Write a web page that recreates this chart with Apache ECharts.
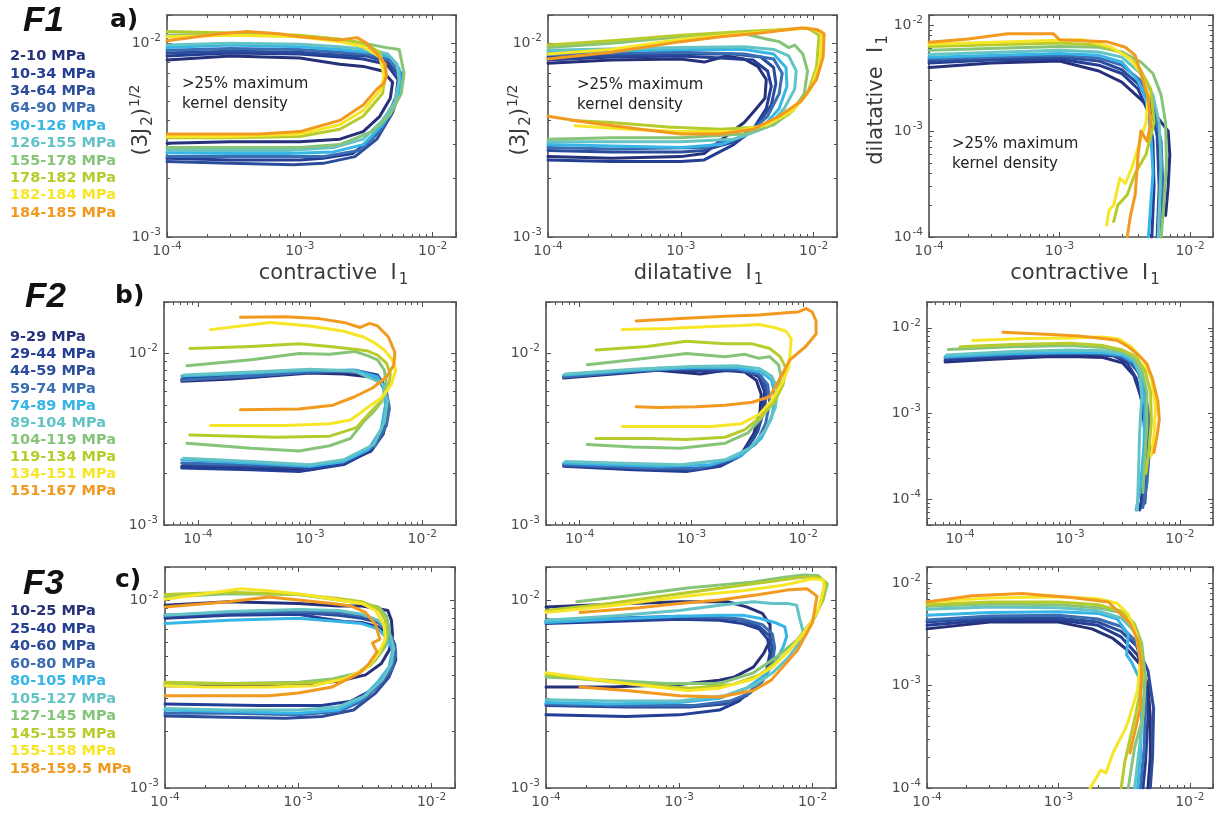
<!DOCTYPE html>
<html>
<head>
<meta charset="utf-8">
<script src="https://cdn.jsdelivr.net/npm/echarts@6/dist/echarts.min.js"></script>
<style>
html, body { margin: 0; padding: 0; background: #fff; }
#main { width: 1215px; height: 818px; }
</style>
</head>
<body>
<div id="main"></div>
<script>
// pressure ranges of each row (legend text)
var namesF1 = ['2-10 MPa', '10-34 MPa', '34-64 MPa', '64-90 MPa', '90-126 MPa', '126-155 MPa', '155-178 MPa', '178-182 MPa', '182-184 MPa', '184-185 MPa'];
var namesF2 = ['9-29 MPa', '29-44 MPa', '44-59 MPa', '59-74 MPa', '74-89 MPa', '89-104 MPa', '104-119 MPa', '119-134 MPa', '134-151 MPa', '151-167 MPa'];
var namesF3 = ['10-25 MPa', '25-40 MPa', '40-60 MPa', '60-80 MPa', '80-105 MPa', '105-127 MPa', '127-145 MPa', '145-155 MPa', '155-158 MPa', '158-159.5 MPa'];

var colors = ['#26317a', '#243e95', '#2b4c9b', '#3b6db3', '#36b5e6', '#63c3c5', '#86c47a', '#b7cc2c', '#f6e627', '#f2991f'];

// contour lines, [x, y] pairs
// F1, contractive I1 vs (3J2)^1/2
var curvesA1 = [
  [[1e-4,8.2e-3],[3e-4,8.6e-3],[1e-3,8.4e-3],[2e-3,7.8e-3],[3e-3,7.6e-3],[4.2e-3,7.2e-3],[5.0e-3,6.3e-3],[4.8e-3,5.2e-3],[4.0e-3,4.2e-3],[3e-3,3.5e-3],[2e-3,3.2e-3],[1e-3,3.1e-3],[3e-4,3.1e-3],[1e-4,3.05e-3]],
  [[1e-4,8.6e-3],[3e-4,8.9e-3],[1e-3,8.8e-3],[2e-3,8.5e-3],[3e-3,8.3e-3],[4.5e-3,7.8e-3],[5.5e-3,6.5e-3],[5.3e-3,5.3e-3],[4.6e-3,4.2e-3],[3.5e-3,3.2e-3],[2.5e-3,2.7e-3],[1.5e-3,2.55e-3],[1e-3,2.5e-3],[3e-4,2.5e-3],[1e-4,2.55e-3]],
  [[1e-4,8.9e-3],[3e-4,9.1e-3],[1e-3,9.0e-3],[2e-3,8.7e-3],[3.2e-3,8.6e-3],[4.6e-3,8.0e-3],[5.6e-3,6.8e-3],[5.6e-3,5.6e-3],[5e-3,4.4e-3],[3.8e-3,3.2e-3],[2.6e-3,2.6e-3],[1.5e-3,2.4e-3],[9e-4,2.36e-3],[3e-4,2.4e-3],[1e-4,2.45e-3]],
  [[1e-4,9.2e-3],[3e-4,9.4e-3],[1e-3,9.3e-3],[2e-3,9.0e-3],[3.2e-3,8.8e-3],[4.8e-3,8.2e-3],[5.8e-3,7.0e-3],[5.7e-3,5.7e-3],[5e-3,4.5e-3],[4e-3,3.5e-3],[2.8e-3,2.8e-3],[1.5e-3,2.6e-3],[5e-4,2.6e-3],[1e-4,2.6e-3]],
  [[1e-4,9.5e-3],[3e-4,9.8e-3],[1e-3,9.6e-3],[2e-3,9.3e-3],[3.3e-3,9.0e-3],[4.8e-3,8.5e-3],[5.6e-3,7.4e-3],[5.8e-3,6.0e-3],[5.2e-3,4.8e-3],[4.2e-3,3.8e-3],[3e-3,3.0e-3],[1.8e-3,2.75e-3],[8e-4,2.7e-3],[3e-4,2.7e-3],[1e-4,2.72e-3]],
  [[1e-4,9.8e-3],[3e-4,1.0e-2],[1e-3,9.9e-3],[2e-3,9.6e-3],[3.3e-3,9.3e-3],[4.6e-3,8.8e-3],[5.4e-3,7.8e-3],[5.6e-3,6.4e-3],[5.2e-3,5.0e-3],[4.2e-3,4.0e-3],[3e-3,3.2e-3],[1.8e-3,2.9e-3],[8e-4,2.8e-3],[3e-4,2.8e-3],[1e-4,2.8e-3]],
  [[1e-4,1.1e-2],[3e-4,1.12e-2],[1e-3,1.09e-2],[2e-3,1.05e-2],[3e-3,1.0e-2],[4.5e-3,9.5e-3],[5.6e-3,9.3e-3],[6.1e-3,7.0e-3],[5.8e-3,5.5e-3],[4.8e-3,4.3e-3],[3.5e-3,3.5e-3],[2e-3,3.0e-3],[1e-3,2.9e-3],[3e-4,2.9e-3],[1e-4,2.9e-3]],
  [[1e-4,1.15e-2],[3e-4,1.13e-2],[1e-3,1.1e-2],[2e-3,1.05e-2],[3e-3,1.0e-2],[4e-3,9.0e-3],[4.4e-3,7.0e-3],[4.2e-3,5.5e-3],[3e-3,4.2e-3],[2e-3,3.6e-3],[1e-3,3.3e-3],[3e-4,3.25e-3],[1e-4,3.25e-3]],
  [[1e-4,1.08e-2],[3e-4,1.1e-2],[1e-3,1.08e-2],[2e-3,1.02e-2],[3e-3,9.6e-3],[4e-3,8.5e-3],[4.3e-3,6.8e-3],[4.1e-3,5.8e-3],[3e-3,4.5e-3],[2e-3,3.8e-3],[1e-3,3.4e-3],[3e-4,3.3e-3],[1e-4,3.3e-3]],
  [[1e-4,1.03e-2],[2.5e-4,1.12e-2],[4e-4,1.15e-2],[7e-4,1.12e-2],[1e-3,1.08e-2],[2e-3,1.04e-2],[2.7e-3,1.07e-2],[3.2e-3,1.0e-2],[3.8e-3,8.8e-3],[4.4e-3,7.8e-3],[4.5e-3,6.8e-3],[4.3e-3,6.2e-3],[3.8e-3,5.8e-3],[3e-3,4.8e-3],[2e-3,4.0e-3],[1e-3,3.5e-3],[5e-4,3.4e-3],[1e-4,3.4e-3]]
];
// F1, dilatative I1 vs (3J2)^1/2
var curvesA2 = [
  [[1e-4,7.9e-3],[3e-4,8.2e-3],[1e-3,8.3e-3],[1.5e-3,8.0e-3],[2.2e-3,8.6e-3],[3e-3,8.3e-3],[3.8e-3,7.6e-3],[4.4e-3,6.5e-3],[4.3e-3,5.2e-3],[3.6e-3,4.5e-3],[3e-3,3.9e-3],[2.3e-3,3.4e-3],[1.5e-3,2.7e-3],[1e-3,2.6e-3],[3e-4,2.55e-3],[1e-4,2.6e-3]],
  [[1e-4,8.2e-3],[3e-4,8.5e-3],[1e-3,8.6e-3],[2e-3,8.4e-3],[3.5e-3,8.2e-3],[4.5e-3,7.2e-3],[4.8e-3,6.0e-3],[4.4e-3,4.6e-3],[3.5e-3,3.6e-3],[2.5e-3,3.0e-3],[1.5e-3,2.5e-3],[1e-3,2.45e-3],[3e-4,2.45e-3],[1e-4,2.5e-3]],
  [[1e-4,8.5e-3],[1e-3,8.8e-3],[2.5e-3,8.8e-3],[4e-3,8.5e-3],[5e-3,7.5e-3],[5.2e-3,6.2e-3],[4.8e-3,4.8e-3],[3.8e-3,3.8e-3],[2.5e-3,3.1e-3],[1.5e-3,2.8e-3],[1e-3,2.75e-3],[3e-4,2.75e-3],[1e-4,2.8e-3]],
  [[1e-4,8.8e-3],[1e-3,9.0e-3],[3e-3,8.8e-3],[5e-3,8.3e-3],[5.8e-3,7.0e-3],[5.5e-3,5.5e-3],[4.5e-3,4.2e-3],[3e-3,3.3e-3],[1.5e-3,2.9e-3],[3e-4,2.85e-3],[1e-4,2.9e-3]],
  [[1e-4,9.0e-3],[1e-3,9.3e-3],[3e-3,9.3e-3],[5e-3,8.8e-3],[6.2e-3,7.5e-3],[6.3e-3,6.0e-3],[5.5e-3,4.6e-3],[4e-3,3.6e-3],[2e-3,3.0e-3],[1e-3,2.9e-3],[3e-4,2.95e-3],[1e-4,3.0e-3]],
  [[1e-4,9.2e-3],[1e-3,9.5e-3],[3e-3,9.6e-3],[5e-3,9.3e-3],[6.5e-3,8.6e-3],[7.4e-3,7.2e-3],[7.2e-3,5.8e-3],[6e-3,4.6e-3],[4.5e-3,3.7e-3],[2.5e-3,3.2e-3],[1e-3,3.1e-3],[3e-4,3.1e-3],[1e-4,3.1e-3]],
  [[1e-4,9.5e-3],[3e-4,1.0e-2],[1e-3,1.08e-2],[3e-3,1.12e-2],[4.5e-3,1.05e-2],[5.5e-3,1.02e-2],[6.5e-3,9.5e-3],[7.2e-3,9.8e-3],[8.3e-3,8.8e-3],[9e-3,7.2e-3],[8.5e-3,5.5e-3],[7e-3,4.5e-3],[5e-3,3.8e-3],[3e-3,3.4e-3],[1e-3,3.25e-3],[3e-4,3.25e-3],[1e-4,3.2e-3]],
  [[1e-4,9.8e-3],[3e-4,1.03e-2],[1e-3,1.1e-2],[3e-3,1.15e-2],[6e-3,1.18e-2],[9e-3,1.2e-2],[1.1e-2,1.1e-2],[1.05e-2,7.5e-3],[9e-3,5.5e-3],[6.5e-3,4.3e-3],[4e-3,3.7e-3],[2e-3,3.6e-3],[8e-4,3.7e-3],[3e-4,3.9e-3],[1.5e-4,4.0e-3]],
  [[1e-4,8.8e-3],[3e-4,9.3e-3],[1e-3,1.05e-2],[3e-3,1.12e-2],[6e-3,1.17e-2],[9e-3,1.2e-2],[1.15e-2,1.15e-2],[1.12e-2,8e-3],[9.5e-3,5.8e-3],[7e-3,4.5e-3],[4.5e-3,3.8e-3],[2.5e-3,3.5e-3],[1e-3,3.5e-3],[4e-4,3.6e-3],[1.6e-4,3.75e-3]],
  [[1e-4,8.3e-3],[3e-4,9.0e-3],[1e-3,1.02e-2],[2e-3,1.08e-2],[4e-3,1.13e-2],[8e-3,1.2e-2],[1.05e-2,1.18e-2],[1.2e-2,1.12e-2],[1.18e-2,8.5e-3],[1.05e-2,6.5e-3],[8e-3,5.0e-3],[5.5e-3,4.2e-3],[3.5e-3,3.6e-3],[2e-3,3.4e-3],[1e-3,3.4e-3],[5e-4,3.6e-3],[2e-4,3.9e-3],[1e-4,4.2e-3]]
];
// F1, contractive I1 vs dilatative I1
var curvesA3 = [
  [[1e-4,4.0e-3],[3e-4,4.4e-3],[1e-3,4.6e-3],[2e-3,3.7e-3],[3e-3,2.9e-3],[4.2e-3,2.0e-3],[5.5e-3,1.4e-3],[6.8e-3,1.0e-3],[7e-3,6e-4],[6.8e-3,3e-4],[6.5e-3,1.6e-4]],
  [[1e-4,4.4e-3],[3e-4,4.7e-3],[1e-3,4.8e-3],[2e-3,4.2e-3],[3e-3,3.5e-3],[4e-3,2.5e-3],[4.8e-3,1.5e-3],[5.2e-3,8e-4],[5.3e-3,3e-4],[5.1e-3,1e-4]],
  [[1e-4,4.6e-3],[1e-3,5.0e-3],[2e-3,4.6e-3],[3e-3,3.8e-3],[4e-3,2.8e-3],[5e-3,1.8e-3],[5.6e-3,9e-4],[5.8e-3,3e-4],[5.6e-3,1e-4]],
  [[1e-4,4.8e-3],[1e-3,5.2e-3],[2e-3,4.9e-3],[3e-3,4.2e-3],[4.2e-3,3.0e-3],[5.2e-3,1.8e-3],[6e-3,8e-4],[6.2e-3,3e-4],[6e-3,1e-4]],
  [[1e-4,5.0e-3],[1e-3,5.4e-3],[2e-3,5.2e-3],[3e-3,4.5e-3],[4e-3,3.0e-3],[4.6e-3,2.0e-3],[5e-3,1e-3],[5.2e-3,4e-4],[4.8e-3,1e-4]],
  [[1e-4,5.3e-3],[1e-3,5.8e-3],[2e-3,5.6e-3],[3e-3,5.0e-3],[4.2e-3,3.5e-3],[5.2e-3,2.2e-3],[5.8e-3,1.2e-3],[6e-3,5e-4],[5.7e-3,1e-4]],
  [[1e-4,5.8e-3],[1e-3,6.3e-3],[2e-3,6.2e-3],[3e-3,5.6e-3],[4.2e-3,4.5e-3],[5.2e-3,3.5e-3],[6e-3,2.2e-3],[6.5e-3,1.2e-3],[6.6e-3,5e-4],[6.3e-3,2e-4],[6e-3,1e-4]],
  [[1e-4,6.3e-3],[1e-3,6.8e-3],[2e-3,6.5e-3],[3e-3,5.5e-3],[4e-3,4.2e-3],[5e-3,2.5e-3],[5.3e-3,1.2e-3],[4.6e-3,6e-4],[3.8e-3,4e-4],[3.3e-3,2.5e-4],[2.8e-3,2e-4],[2.6e-3,1.4e-4]],
  [[1e-4,6.6e-3],[1e-3,7.2e-3],[1.5e-3,7.3e-3],[2.5e-3,6.2e-3],[3.5e-3,4.8e-3],[4.2e-3,3.5e-3],[4.8e-3,2.2e-3],[4.6e-3,1.2e-3],[4e-3,7e-4],[3.6e-3,4.6e-4],[3.2e-3,3.2e-4],[2.9e-3,3.6e-4],[2.6e-3,2.0e-4],[2.4e-3,1.8e-4],[2.3e-3,1.3e-4]],
  [[1e-4,6.9e-3],[2e-4,7.4e-3],[4e-4,8.3e-3],[9e-4,8.3e-3],[1e-3,7.3e-3],[2.3e-3,7.0e-3],[3.2e-3,6.2e-3],[3.8e-3,5.2e-3],[4.3e-3,3.2e-3],[4.8e-3,2.0e-3],[5e-3,1.2e-3],[4.7e-3,8e-4],[4.2e-3,1.0e-3],[4.0e-3,6e-4],[3.8e-3,2.5e-4],[3.5e-3,1.6e-4],[3.3e-3,1.0e-4]]
];
// F2, contractive I1 vs (3J2)^1/2
var curvesB1 = [
  [[7.2e-5,6.9e-3],[2e-4,7.1e-3],[1e-3,7.7e-3],[2e-3,7.6e-3],[3.5e-3,7.3e-3],[4.4e-3,6.8e-3],[4.8e-3,5.8e-3],[4.9e-3,4.5e-3],[4.5e-3,3.4e-3],[3.5e-3,2.7e-3],[2e-3,2.3e-3],[1e-3,2.1e-3],[3e-4,2.15e-3],[7.2e-5,2.2e-3]],
  [[7.2e-5,7.1e-3],[3e-4,7.3e-3],[1e-3,7.8e-3],[2.5e-3,7.8e-3],[4e-3,7.2e-3],[4.6e-3,6.2e-3],[4.8e-3,4.8e-3],[4.4e-3,3.5e-3],[3.4e-3,2.7e-3],[2e-3,2.25e-3],[8e-4,2.05e-3],[3e-4,2.1e-3],[7.2e-5,2.15e-3]],
  [[7.5e-5,7.3e-3],[3e-4,7.6e-3],[1e-3,7.9e-3],[2.5e-3,8.0e-3],[4e-3,7.5e-3],[4.6e-3,6.5e-3],[5e-3,5e-3],[4.6e-3,3.6e-3],[3.6e-3,2.8e-3],[2e-3,2.3e-3],[1e-3,2.15e-3],[3e-4,2.2e-3],[7.5e-5,2.25e-3]],
  [[7.2e-5,7.0e-3],[3e-4,7.4e-3],[1e-3,7.8e-3],[2.5e-3,7.9e-3],[4.2e-3,7.0e-3],[4.8e-3,6.0e-3],[5.1e-3,4.8e-3],[4.8e-3,3.8e-3],[3.8e-3,2.9e-3],[2e-3,2.35e-3],[1e-3,2.2e-3],[3e-4,2.25e-3],[7.2e-5,2.3e-3]],
  [[7.2e-5,7.4e-3],[3e-4,7.7e-3],[1e-3,8.0e-3],[2.5e-3,8.0e-3],[4e-3,7.3e-3],[4.5e-3,6.4e-3],[4.7e-3,5.0e-3],[4.3e-3,3.6e-3],[3.3e-3,2.75e-3],[2e-3,2.35e-3],[1e-3,2.2e-3],[3e-4,2.3e-3],[7.2e-5,2.4e-3]],
  [[7.5e-5,7.5e-3],[3e-4,7.8e-3],[1e-3,8.1e-3],[2.5e-3,7.9e-3],[3.8e-3,7.0e-3],[4.5e-3,6.6e-3],[4.9e-3,5.3e-3],[4.6e-3,4.0e-3],[3.7e-3,2.95e-3],[2e-3,2.4e-3],[1e-3,2.25e-3],[3e-4,2.35e-3],[7.5e-5,2.45e-3]],
  [[8e-5,8.5e-3],[3e-4,9.2e-3],[8e-4,1.0e-2],[1.5e-3,9.9e-3],[2.5e-3,1.03e-2],[3.3e-3,9.7e-3],[4e-3,9.2e-3],[4.6e-3,8.0e-3],[4.8e-3,6.6e-3],[4.3e-3,5.2e-3],[3.6e-3,4.5e-3],[3e-3,4.0e-3],[2.3e-3,3.2e-3],[1.5e-3,2.9e-3],[8e-4,2.7e-3],[3e-4,2.8e-3],[8e-5,3.0e-3]],
  [[8.5e-5,1.07e-2],[3e-4,1.1e-2],[8e-4,1.14e-2],[1.5e-3,1.1e-2],[2.5e-3,1.06e-2],[3.2e-3,1.04e-2],[4e-3,9.8e-3],[4.8e-3,8.8e-3],[5.2e-3,7.6e-3],[5e-3,6.3e-3],[4.2e-3,5.2e-3],[3.4e-3,4.5e-3],[2.6e-3,3.7e-3],[1.5e-3,3.3e-3],[5e-4,3.25e-3],[8.5e-5,3.35e-3]],
  [[1.3e-4,1.38e-2],[4.4e-4,1.52e-2],[1e-3,1.45e-2],[2e-3,1.35e-2],[3e-3,1.25e-2],[3.8e-3,1.15e-2],[4.6e-3,1.05e-2],[5.4e-3,9.2e-3],[5.8e-3,8.0e-3],[5.3e-3,6.6e-3],[4.3e-3,5.5e-3],[3.2e-3,4.8e-3],[2.3e-3,4.1e-3],[1.5e-3,3.9e-3],[6e-4,3.8e-3],[1.3e-4,3.8e-3]],
  [[2.4e-4,1.63e-2],[6e-4,1.64e-2],[1.2e-3,1.6e-2],[2e-3,1.52e-2],[2.8e-3,1.42e-2],[3.4e-3,1.5e-2],[4e-3,1.45e-2],[5e-3,1.25e-2],[5.7e-3,1.02e-2],[5.6e-3,8.6e-3],[4.8e-3,7.3e-3],[3.6e-3,6.3e-3],[2.5e-3,5.6e-3],[1.6e-3,5.0e-3],[8e-4,4.75e-3],[2.4e-4,4.7e-3]]
];
// F2, dilatative I1 vs (3J2)^1/2
var curvesB2 = [
  [[7.2e-5,7.2e-3],[2e-4,7.6e-3],[5e-4,8.0e-3],[1.2e-3,7.6e-3],[2e-3,8.0e-3],[3e-3,7.8e-3],[3.8e-3,7.0e-3],[4.2e-3,5.8e-3],[4.1e-3,4.6e-3],[3.6e-3,3.4e-3],[2.8e-3,2.6e-3],[1.8e-3,2.25e-3],[9e-4,2.08e-3],[3e-4,2.15e-3],[7.2e-5,2.25e-3]],
  [[7.2e-5,7.3e-3],[2e-4,7.7e-3],[5e-4,8.1e-3],[1.5e-3,7.9e-3],[3e-3,8.0e-3],[4e-3,7.3e-3],[4.5e-3,6.0e-3],[4.3e-3,4.6e-3],[3.7e-3,3.3e-3],[2.8e-3,2.55e-3],[1.8e-3,2.2e-3],[9e-4,2.05e-3],[3e-4,2.1e-3],[7.2e-5,2.2e-3]],
  [[7.5e-5,7.4e-3],[2e-4,7.8e-3],[5e-4,8.2e-3],[1.5e-3,8.0e-3],[3e-3,8.2e-3],[4.2e-3,7.4e-3],[4.7e-3,6.2e-3],[4.5e-3,4.8e-3],[3.9e-3,3.5e-3],[3e-3,2.7e-3],[2e-3,2.3e-3],[1e-3,2.1e-3],[3e-4,2.15e-3],[7.5e-5,2.25e-3]],
  [[7.2e-5,7.3e-3],[3e-4,7.9e-3],[1e-3,8.2e-3],[2.5e-3,8.1e-3],[4e-3,7.6e-3],[4.8e-3,6.6e-3],[5e-3,5.2e-3],[4.6e-3,3.9e-3],[3.8e-3,3.0e-3],[2.5e-3,2.45e-3],[1.2e-3,2.15e-3],[4e-4,2.15e-3],[7.2e-5,2.25e-3]],
  [[7.2e-5,7.5e-3],[3e-4,8.0e-3],[1e-3,8.3e-3],[2.5e-3,8.3e-3],[4.2e-3,7.8e-3],[5.2e-3,7.0e-3],[5.6e-3,5.6e-3],[5.2e-3,4.2e-3],[4.2e-3,3.2e-3],[2.8e-3,2.55e-3],[1.5e-3,2.25e-3],[5e-4,2.2e-3],[7.2e-5,2.3e-3]],
  [[7.5e-5,7.6e-3],[3e-4,8.1e-3],[1e-3,8.4e-3],[2.5e-3,8.5e-3],[4e-3,8.2e-3],[5.2e-3,7.4e-3],[5.9e-3,6.2e-3],[5.6e-3,4.8e-3],[4.6e-3,3.6e-3],[3.3e-3,2.8e-3],[2e-3,2.4e-3],[8e-4,2.25e-3],[2e-4,2.3e-3],[7.5e-5,2.35e-3]],
  [[1.17e-4,8.6e-3],[3e-4,9.2e-3],[9e-4,1.0e-2],[2e-3,9.6e-3],[3e-3,9.9e-3],[4e-3,9.4e-3],[5e-3,9.6e-3],[6e-3,8.6e-3],[6.3e-3,7.4e-3],[6e-3,6.2e-3],[5e-3,5.0e-3],[4.2e-3,4.2e-3],[3.2e-3,3.45e-3],[2e-3,3.0e-3],[8e-4,2.8e-3],[3e-4,2.85e-3],[1.17e-4,2.95e-3]],
  [[1.4e-4,1.05e-2],[4e-4,1.1e-2],[9e-4,1.18e-2],[2e-3,1.14e-2],[3.5e-3,1.14e-2],[5e-3,1.07e-2],[6.2e-3,9.6e-3],[7e-3,8.2e-3],[6.6e-3,6.6e-3],[5.5e-3,5.2e-3],[4.2e-3,4.3e-3],[3e-3,3.6e-3],[2e-3,3.25e-3],[9e-4,3.15e-3],[4e-4,3.2e-3],[1.4e-4,3.2e-3]],
  [[2.4e-4,1.38e-2],[6e-4,1.4e-2],[1.5e-3,1.44e-2],[2.8e-3,1.46e-2],[4e-3,1.48e-2],[5.5e-3,1.42e-2],[7e-3,1.35e-2],[7.8e-3,1.22e-2],[7.6e-3,1.0e-2],[7.4e-3,8.3e-3],[6.5e-3,6.8e-3],[5.2e-3,5.3e-3],[4e-3,4.4e-3],[2.8e-3,3.9e-3],[1.5e-3,3.75e-3],[6e-4,3.75e-3],[2.4e-4,3.75e-3]],
  [[3.2e-4,1.55e-2],[8e-4,1.6e-2],[2e-3,1.65e-2],[4e-3,1.68e-2],[7e-3,1.73e-2],[9e-3,1.75e-2],[1.06e-2,1.83e-2],[1.2e-2,1.75e-2],[1.3e-2,1.55e-2],[1.3e-2,1.3e-2],[1.05e-2,1.1e-2],[7.6e-3,9.2e-3],[6.2e-3,7.2e-3],[5e-3,5.6e-3],[3.5e-3,5.2e-3],[2e-3,5.0e-3],[1.1e-3,4.9e-3],[5e-4,4.85e-3],[3.2e-4,4.9e-3]]
];
// F2, contractive I1 vs dilatative I1
var curvesB3 = [
  [[7.3e-5,4.0e-3],[2e-4,4.3e-3],[6e-4,4.6e-3],[1.2e-3,4.6e-3],[2e-3,4.5e-3],[3e-3,3.9e-3],[3.8e-3,2.8e-3],[4.4e-3,1.6e-3],[4.8e-3,8e-4],[4.8e-3,3e-4],[4.6e-3,1.4e-4],[4.4e-3,8e-5]],
  [[7.3e-5,4.2e-3],[2e-4,4.5e-3],[6e-4,4.8e-3],[1.5e-3,4.9e-3],[2.5e-3,4.7e-3],[3.3e-3,3.9e-3],[4e-3,2.6e-3],[4.5e-3,1.4e-3],[4.8e-3,6e-4],[4.7e-3,2.5e-4],[4.5e-3,1e-4],[4.3e-3,7.5e-5]],
  [[7.5e-5,4.4e-3],[2e-4,4.7e-3],[7e-4,5.0e-3],[1.5e-3,5.0e-3],[2.5e-3,4.8e-3],[3.4e-3,4.2e-3],[4.2e-3,3.0e-3],[4.8e-3,1.6e-3],[5.2e-3,6e-4],[5e-3,2e-4],[4.8e-3,9e-5]],
  [[7.3e-5,4.5e-3],[3e-4,4.9e-3],[1e-3,5.1e-3],[2e-3,5.0e-3],[3e-3,4.6e-3],[3.8e-3,3.8e-3],[4.6e-3,2.4e-3],[5.2e-3,1.0e-3],[5.3e-3,4e-4],[5e-3,1.5e-4],[4.6e-3,8e-5]],
  [[7.3e-5,4.6e-3],[3e-4,5.0e-3],[1e-3,5.2e-3],[2e-3,5.1e-3],[3e-3,4.8e-3],[3.8e-3,4.0e-3],[4.5e-3,2.6e-3],[4.8e-3,1.2e-3],[4.7e-3,4e-4],[4.4e-3,1.5e-4],[4.0e-3,7.5e-5]],
  [[7.5e-5,4.8e-3],[3e-4,5.3e-3],[1e-3,5.5e-3],[2e-3,5.4e-3],[3e-3,5.0e-3],[3.8e-3,4.3e-3],[4.3e-3,3.0e-3],[4.5e-3,1.6e-3],[4.3e-3,6e-4],[4.2e-3,2e-4],[4.1e-3,7.5e-5]],
  [[7.8e-5,5.6e-3],[3e-4,6.0e-3],[1e-3,6.2e-3],[2e-3,5.9e-3],[3e-3,5.3e-3],[3.8e-3,4.5e-3],[4.5e-3,3.2e-3],[5e-3,1.8e-3],[5e-3,7e-4],[4.8e-3,3e-4],[4.6e-3,1.2e-4]],
  [[1e-4,6.0e-3],[3e-4,6.4e-3],[1e-3,6.6e-3],[2e-3,6.2e-3],[3e-3,5.5e-3],[4e-3,4.6e-3],[4.8e-3,3.2e-3],[5.4e-3,1.8e-3],[5.5e-3,8e-4],[5.2e-3,3.5e-4],[4.9e-3,2e-4]],
  [[1.3e-4,7.1e-3],[4e-4,7.5e-3],[1e-3,7.6e-3],[2e-3,7.8e-3],[2.8e-3,7.4e-3],[3.6e-3,6.0e-3],[4.6e-3,4.3e-3],[5.5e-3,2.6e-3],[6e-3,1.2e-3],[5.8e-3,5.5e-4],[5.5e-3,3.2e-4]],
  [[2.45e-4,8.9e-3],[6e-4,8.4e-3],[1.2e-3,8.0e-3],[2e-3,7.5e-3],[2.7e-3,7.1e-3],[3.4e-3,6.0e-3],[4.2e-3,4.8e-3],[5e-3,3.8e-3],[5.6e-3,2.6e-3],[6.3e-3,1.4e-3],[6.5e-3,8.5e-4],[6.2e-3,5.5e-4],[5.8e-3,3.5e-4]]
];
// F3, contractive I1 vs (3J2)^1/2
var curvesC1 = [
  [[1e-4,9.4e-3],[3e-4,9.8e-3],[1e-3,9.6e-3],[2e-3,9.3e-3],[3e-3,9.3e-3],[4e-3,9.0e-3],[4.7e-3,8.8e-3],[5.0e-3,7.8e-3],[5.1e-3,6.5e-3],[4.8e-3,5.4e-3],[4.2e-3,4.6e-3],[3.2e-3,4.0e-3],[2e-3,3.7e-3],[1e-3,3.55e-3],[3e-4,3.5e-3],[1e-4,3.5e-3]],
  [[1e-4,8.0e-3],[3e-4,8.3e-3],[1e-3,8.4e-3],[1.5e-3,8.0e-3],[2.2e-3,7.7e-3],[3e-3,7.6e-3],[4e-3,7.2e-3],[4.8e-3,6.5e-3],[5.3e-3,5.5e-3],[5.2e-3,4.6e-3],[4.5e-3,3.9e-3],[3.5e-3,3.3e-3],[2.5e-3,2.9e-3],[1.5e-3,2.75e-3],[5e-4,2.75e-3],[1e-4,2.8e-3]],
  [[1e-4,8.2e-3],[3e-4,8.5e-3],[1e-3,8.6e-3],[2e-3,8.3e-3],[3e-3,8.0e-3],[4e-3,7.6e-3],[4.8e-3,6.8e-3],[5.3e-3,5.8e-3],[5.4e-3,4.8e-3],[4.8e-3,3.9e-3],[3.8e-3,3.2e-3],[2.6e-3,2.6e-3],[1.5e-3,2.4e-3],[8e-4,2.35e-3],[3e-4,2.38e-3],[1e-4,2.42e-3]],
  [[1e-4,8.3e-3],[3e-4,8.6e-3],[1e-3,8.7e-3],[2e-3,8.6e-3],[3.2e-3,8.2e-3],[4.2e-3,7.4e-3],[5e-3,6.4e-3],[5.4e-3,5.2e-3],[5e-3,4.3e-3],[4e-3,3.5e-3],[3e-3,2.9e-3],[2e-3,2.55e-3],[1e-3,2.45e-3],[3e-4,2.5e-3],[1e-4,2.5e-3]],
  [[1e-4,7.5e-3],[3e-4,7.8e-3],[1e-3,8.0e-3],[2e-3,7.7e-3],[3e-3,7.5e-3],[4e-3,7.0e-3],[4.7e-3,6.2e-3],[5.1e-3,5.4e-3],[4.8e-3,4.4e-3],[4e-3,3.7e-3],[3e-3,3.0e-3],[2e-3,2.6e-3],[1e-3,2.5e-3],[3e-4,2.55e-3],[1e-4,2.6e-3]],
  [[1e-4,8.3e-3],[3e-4,8.7e-3],[1e-3,8.9e-3],[2e-3,8.8e-3],[3e-3,8.4e-3],[4e-3,7.8e-3],[4.8e-3,6.8e-3],[5.2e-3,5.6e-3],[5e-3,4.6e-3],[4.3e-3,3.8e-3],[3.2e-3,3.1e-3],[2e-3,2.7e-3],[1e-3,2.6e-3],[3e-4,2.6e-3],[1e-4,2.65e-3]],
  [[1e-4,1.04e-2],[3e-4,1.08e-2],[1e-3,1.07e-2],[2e-3,1.0e-2],[3e-3,9.6e-3],[4e-3,9.2e-3],[4.6e-3,8.2e-3],[4.8e-3,7.0e-3],[4.6e-3,5.8e-3],[3.8e-3,4.8e-3],[2.8e-3,4.1e-3],[1.8e-3,3.8e-3],[1e-3,3.65e-3],[3e-4,3.6e-3],[1e-4,3.6e-3]],
  [[1e-4,1.07e-2],[3e-4,1.1e-2],[1e-3,1.07e-2],[2e-3,1.02e-2],[3e-3,9.8e-3],[4e-3,9.0e-3],[4.5e-3,7.8e-3],[4.6e-3,6.5e-3],[4.2e-3,5.4e-3],[3.5e-3,4.5e-3],[2.5e-3,3.9e-3],[1.5e-3,3.65e-3],[8e-4,3.6e-3],[3e-4,3.6e-3],[1e-4,3.65e-3]],
  [[1e-4,1.01e-2],[2e-4,1.08e-2],[3.7e-4,1.15e-2],[6e-4,1.12e-2],[1e-3,1.08e-2],[2e-3,1.0e-2],[3e-3,9.6e-3],[3.8e-3,8.8e-3],[4.4e-3,7.4e-3],[4.5e-3,6.2e-3],[4e-3,5.2e-3],[3.2e-3,4.3e-3],[2.2e-3,3.8e-3],[1.3e-3,3.5e-3],[6e-4,3.45e-3],[2e-4,3.45e-3],[1e-4,3.5e-3]],
  [[1e-4,9.2e-3],[3e-4,9.8e-3],[6e-4,1.04e-2],[1e-3,1.0e-2],[1.8e-3,9.6e-3],[2.5e-3,9.3e-3],[3.2e-3,8.6e-3],[3.8e-3,7.4e-3],[4.1e-3,6.2e-3],[3.6e-3,5.9e-3],[3.9e-3,5.3e-3],[3.4e-3,4.6e-3],[2.9e-3,4.1e-3],[1.8e-3,3.45e-3],[1e-3,3.2e-3],[6e-4,3.1e-3],[1e-4,3.1e-3]]
];
// F3, dilatative I1 vs (3J2)^1/2
var curvesC2 = [
  [[1e-4,9.2e-3],[3e-4,9.5e-3],[1e-3,9.8e-3],[2.3e-3,9.8e-3],[3.2e-3,9.2e-3],[4.2e-3,8.5e-3],[4.8e-3,7.4e-3],[4.8e-3,6.1e-3],[4.3e-3,5.2e-3],[3.6e-3,4.4e-3],[2.6e-3,3.9e-3],[2e-3,3.75e-3],[1e-3,3.55e-3],[3e-4,3.45e-3],[1e-4,3.45e-3]],
  [[1e-4,7.5e-3],[3e-4,7.7e-3],[1e-3,7.9e-3],[2e-3,7.8e-3],[3e-3,7.5e-3],[4e-3,7.0e-3],[4.6e-3,6.2e-3],[4.8e-3,5.2e-3],[4.5e-3,4.2e-3],[3.8e-3,3.5e-3],[2.8e-3,2.9e-3],[2e-3,2.6e-3],[1e-3,2.45e-3],[4e-4,2.4e-3],[1e-4,2.45e-3]],
  [[1e-4,7.7e-3],[3e-4,7.9e-3],[1e-3,8.0e-3],[2e-3,8.0e-3],[3e-3,7.8e-3],[4e-3,7.2e-3],[4.8e-3,6.4e-3],[5e-3,5.4e-3],[4.8e-3,4.4e-3],[4.2e-3,3.7e-3],[3.2e-3,3.1e-3],[2.2e-3,2.8e-3],[1.2e-3,2.7e-3],[4e-4,2.7e-3],[1e-4,2.75e-3]],
  [[1e-4,7.8e-3],[3e-4,8.0e-3],[1e-3,8.2e-3],[2e-3,8.1e-3],[3e-3,7.9e-3],[4.2e-3,7.4e-3],[5e-3,6.6e-3],[5.2e-3,5.6e-3],[5e-3,4.6e-3],[4.3e-3,3.8e-3],[3.4e-3,3.2e-3],[2.4e-3,2.9e-3],[1.3e-3,2.75e-3],[4e-4,2.75e-3],[1e-4,2.8e-3]],
  [[1e-4,7.6e-3],[3e-4,7.9e-3],[1e-3,8.2e-3],[2e-3,8.3e-3],[3e-3,8.3e-3],[4e-3,8.0e-3],[5.2e-3,7.6e-3],[6.2e-3,7.2e-3],[6.4e-3,6.4e-3],[6e-3,5.6e-3],[5.2e-3,4.6e-3],[4.2e-3,3.9e-3],[3.2e-3,3.4e-3],[2e-3,3.0e-3],[1e-3,2.85e-3],[3e-4,2.8e-3],[1e-4,2.85e-3]],
  [[1e-4,7.8e-3],[3e-4,8.2e-3],[1e-3,8.8e-3],[2e-3,9.4e-3],[3.6e-3,9.8e-3],[5e-3,9.6e-3],[6.5e-3,9.6e-3],[7.6e-3,9.4e-3],[8e-3,8.0e-3],[8.5e-3,6.8e-3],[7.8e-3,5.8e-3],[6.5e-3,4.9e-3],[5e-3,4.1e-3],[3.6e-3,3.5e-3],[2.2e-3,3.1e-3],[1e-3,2.9e-3],[3e-4,2.9e-3],[1e-4,2.95e-3]],
  [[1.7e-4,9.8e-3],[4e-4,1.05e-2],[1.15e-3,1.16e-2],[3.6e-3,1.25e-2],[6e-3,1.32e-2],[8.5e-3,1.36e-2],[1.1e-2,1.35e-2],[1.29e-2,1.22e-2],[1.2e-2,1.0e-2],[1.0e-2,7.8e-3],[7.6e-3,6.1e-3],[5.4e-3,5.0e-3],[3.6e-3,4.1e-3],[2e-3,3.6e-3],[8e-4,3.6e-3],[3e-4,3.75e-3],[1e-4,3.9e-3]],
  [[1e-4,8.8e-3],[3e-4,9.6e-3],[1e-3,1.08e-2],[2.5e-3,1.18e-2],[5e-3,1.26e-2],[8e-3,1.32e-2],[1.1e-2,1.33e-2],[1.25e-2,1.25e-2],[1.22e-2,1.05e-2],[1.05e-2,8.2e-3],[8e-3,6.2e-3],[5.8e-3,4.9e-3],[4e-3,4.0e-3],[2.5e-3,3.55e-3],[1.2e-3,3.4e-3],[4e-4,3.6e-3],[1e-4,4.0e-3]],
  [[1e-4,8.6e-3],[3e-4,9.3e-3],[1.15e-3,1.05e-2],[3e-3,1.12e-2],[6e-3,1.2e-2],[1e-2,1.3e-2],[1.2e-2,1.28e-2],[1.22e-2,1.18e-2],[1.1e-2,8.8e-3],[9e-3,7.0e-3],[7e-3,5.6e-3],[5e-3,4.4e-3],[3.6e-3,3.8e-3],[2e-3,3.4e-3],[1.15e-3,3.3e-3],[4e-4,3.6e-3],[1e-4,4.1e-3]],
  [[1.8e-4,8.6e-3],[5e-4,9.1e-3],[1e-3,9.6e-3],[2e-3,1.0e-2],[4e-3,1.07e-2],[6.4e-3,1.13e-2],[9.1e-3,1.15e-2],[1.08e-2,1.05e-2],[1.0e-2,7.6e-3],[7.7e-3,5.4e-3],[4.9e-3,3.75e-3],[3.6e-3,3.3e-3],[2e-3,3.05e-3],[1e-3,3.1e-3],[4e-4,3.3e-3],[1.8e-4,3.45e-3]]
];
// F3, contractive I1 vs dilatative I1
var curvesC3 = [
  [[1e-4,3.6e-3],[3e-4,4.2e-3],[1e-3,4.2e-3],[1.8e-3,3.6e-3],[2.6e-3,2.9e-3],[3.4e-3,2.2e-3],[4.2e-3,1.6e-3],[4.8e-3,1.0e-3],[5e-3,5e-4],[5e-3,2e-4],[4.8e-3,1e-4]],
  [[1e-4,3.9e-3],[3e-4,4.4e-3],[1e-3,4.4e-3],[2e-3,3.9e-3],[3e-3,3.0e-3],[4e-3,2.0e-3],[4.6e-3,1.2e-3],[4.8e-3,5e-4],[4.6e-3,1.8e-4],[4.4e-3,1e-4]],
  [[1e-4,4.2e-3],[3e-4,4.6e-3],[1e-3,4.6e-3],[2e-3,4.2e-3],[3e-3,3.4e-3],[4e-3,2.4e-3],[4.8e-3,1.4e-3],[5.3e-3,6e-4],[5.2e-3,2e-4],[5e-3,1e-4]],
  [[1e-4,4.4e-3],[3e-4,4.8e-3],[1e-3,4.9e-3],[2e-3,4.5e-3],[3e-3,3.8e-3],[3.8e-3,2.8e-3],[4.4e-3,1.6e-3],[4.6e-3,7e-4],[4.5e-3,2.5e-4],[4.2e-3,1e-4]],
  [[1e-4,4.9e-3],[3e-4,5.2e-3],[1e-3,5.3e-3],[2e-3,5.1e-3],[2.8e-3,4.5e-3],[3.4e-3,3.2e-3],[3.3e-3,2.0e-3],[3.6e-3,1.7e-3],[4.1e-3,1.2e-3],[4.3e-3,5e-4],[4.2e-3,2e-4],[4e-3,1e-4]],
  [[1e-4,5.6e-3],[3e-4,5.9e-3],[1e-3,5.8e-3],[2e-3,5.4e-3],[3e-3,4.6e-3],[3.8e-3,3.4e-3],[4.3e-3,2.0e-3],[4.5e-3,9e-4],[4.2e-3,3e-4],[3.8e-3,1e-4]],
  [[1e-4,6.0e-3],[3e-4,6.3e-3],[1e-3,6.2e-3],[2e-3,5.8e-3],[3e-3,5.2e-3],[3.8e-3,4.0e-3],[4.3e-3,2.6e-3],[4.6e-3,1.2e-3],[4.4e-3,5e-4],[3.8e-3,2.5e-4],[3.4e-3,1e-4]],
  [[1e-4,6.2e-3],[3e-4,6.6e-3],[1e-3,6.6e-3],[2e-3,6.2e-3],[3e-3,5.4e-3],[3.7e-3,4.2e-3],[4.2e-3,2.6e-3],[4.4e-3,1.2e-3],[3.9e-3,5.5e-4],[3.5e-3,3e-4],[3.2e-3,1.8e-4],[3.0e-3,1e-4]],
  [[1e-4,6.6e-3],[3e-4,7.2e-3],[1e-3,7.4e-3],[2e-3,7.1e-3],[2.8e-3,6.4e-3],[3.4e-3,5.0e-3],[3.9e-3,3.2e-3],[4.2e-3,1.8e-3],[4.0e-3,9e-4],[3.4e-3,4.5e-4],[3.2e-3,3.7e-4],[2.6e-3,2.2e-4],[2.3e-3,1.4e-4],[2.1e-3,1.5e-4],[1.9e-3,1.2e-4],[1.74e-3,1e-4]],
  [[1e-4,6.6e-3],[2.2e-4,7.6e-3],[5.3e-4,8.0e-3],[1.26e-3,7.3e-3],[2.4e-3,6.6e-3],[3.5e-3,4.1e-3],[4e-3,2.8e-3],[4.3e-3,1.5e-3],[4.2e-3,6.2e-4],[3.9e-3,4e-4],[3.6e-3,2.6e-4],[3.5e-3,2.2e-4]]
];

var rowNames = [namesF1, namesF2, namesF3];
var xNameC = '{t|contractive  I}{sub|1}';
var xNameD = '{t|dilatative  I}{sub|1}';
var yNameJ = '{t|(3J}{sub|2}{t|)}{sup|1/2}';

// layout of the nine panels
var panels = [
  { row: 0, box: [167, 15, 289, 222], x: [1e-4, 1.5e-2], y: [1e-3, 1.4e-2], curves: curvesA1, xName: xNameC, xPad: 44, yName: yNameJ, yPad: 12, yGap: 11 },
  { row: 0, box: [548, 15, 289, 222], x: [1e-4, 1.5e-2], y: [1e-3, 1.4e-2], curves: curvesA2, xName: xNameD, xPad: 12, yName: yNameJ, yPad: 12, yGap: 14 },
  { row: 0, box: [929, 15, 284, 222], x: [1e-4, 1.5e-2], y: [1e-4, 1.25e-2], curves: curvesA3, xName: xNameC, xPad: 28, yName: xNameD, yPad: 52, yGap: 38 },
  { row: 1, box: [164, 302, 292, 223], x: [5e-5, 2e-2], y: [1e-3, 2e-2], curves: curvesB1 },
  { row: 1, box: [546, 302, 291, 223], x: [5e-5, 2e-2], y: [1e-3, 2e-2], curves: curvesB2 },
  { row: 1, box: [927, 302, 286, 223], x: [5e-5, 2e-2], y: [5e-5, 2e-2], curves: curvesB3 },
  { row: 2, box: [165, 567, 290, 221], x: [1e-4, 1.5e-2], y: [1e-3, 1.5e-2], curves: curvesC1 },
  { row: 2, box: [546, 567, 290, 221], x: [1e-4, 1.5e-2], y: [1e-3, 1.5e-2], curves: curvesC2 },
  { row: 2, box: [927, 567, 286, 221], x: [1e-4, 1.5e-2], y: [1e-4, 1.45e-2], curves: curvesC3 }
];

var FONT = 'DejaVu Sans';
var AX = '#505050';
var LBL = '#4d4d4d';

function powLabel(v) {
  var e = Math.log(v) / Math.LN10;
  var r = Math.round(e);
  if (Math.abs(e - r) > 1e-3) return '';
  return '{b|10}{s|' + r + '}';
}
var labelRich = {
  b: { fontSize: 14, fontFamily: FONT, color: LBL },
  s: { fontSize: 10.5, fontFamily: FONT, color: LBL, padding: [0, 0, 10, 1] }
};
var nameRich = {
  t: { fontSize: 21, fontFamily: FONT, color: '#3a3a3a' },
  sub: { fontSize: 15, fontFamily: FONT, color: '#3a3a3a', padding: [13, 0, 0, 2] },
  sup: { fontSize: 14, fontFamily: FONT, color: '#3a3a3a', padding: [0, 0, 13, 1] }
};

var grids = [], xAxes = [], yAxes = [], series = [];

panels.forEach(function (p, i) {
  grids.push({ left: p.box[0], top: p.box[1], width: p.box[2], height: p.box[3], outerBoundsMode: 'none', containLabel: false });
  var line = { show: true, lineStyle: { color: AX, width: 1.6 } };
  var tick = { show: true, inside: true, length: 5, lineStyle: { color: AX, width: 1 } };
  var minor = { show: true, splitNumber: 9, length: 3, lineStyle: { color: AX, width: 1 } };
  var bottom = {
    type: 'log', logBase: 10, gridIndex: i, position: 'bottom', min: p.x[0], max: p.x[1],
    axisLine: line, axisTick: tick, minorTick: minor, splitLine: { show: false },
    axisLabel: { formatter: powLabel, rich: labelRich, margin: 4 }
  };
  if (p.xName) {
    bottom.name = p.xName;
    bottom.nameLocation = 'middle';
    bottom.nameGap = 23;
    bottom.nameMoveOverlap = false;
    bottom.nameTextStyle = { rich: nameRich, padding: [0, 0, 0, p.xPad] };
  }
  xAxes.push(bottom);
  xAxes.push({
    type: 'log', logBase: 10, gridIndex: i, position: 'top', min: p.x[0], max: p.x[1],
    axisLine: line, axisTick: tick, minorTick: minor, splitLine: { show: false }, axisLabel: { show: false }
  });
  var left = {
    type: 'log', logBase: 10, gridIndex: i, position: 'left', min: p.y[0], max: p.y[1],
    axisLine: line, axisTick: tick, minorTick: minor, splitLine: { show: false },
    axisLabel: { formatter: powLabel, rich: labelRich, margin: 6 }
  };
  if (p.yName) {
    left.name = p.yName;
    left.nameLocation = 'middle';
    left.nameRotate = 90;
    left.nameGap = p.yGap;
    left.nameMoveOverlap = false;
    left.nameTextStyle = { rich: nameRich, padding: [0, 0, 0, p.yPad] };
  }
  yAxes.push(left);
  yAxes.push({
    type: 'log', logBase: 10, gridIndex: i, position: 'right', min: p.y[0], max: p.y[1],
    axisLine: line, axisTick: tick, minorTick: minor, splitLine: { show: false }, axisLabel: { show: false }
  });

  p.curves.forEach(function (c, k) {
    series.push({
      type: 'line',
      name: rowNames[p.row][k],
      xAxisIndex: 2 * i,
      yAxisIndex: 2 * i,
      data: c,
      symbol: 'none',
      silent: true,
      z: 2 + k,
      lineStyle: { color: colors[k], width: 3, cap: 'round', join: 'round' },
      itemStyle: { color: colors[k] }
    });
  });
});

function rowLegend(names, top, gap) {
  return {
    orient: 'vertical', left: 5, top: top, icon: 'none', selectedMode: false,
    itemWidth: 0, itemHeight: 14, itemGap: gap, padding: 0,
    textStyle: { fontFamily: FONT, fontWeight: 'bold', fontSize: 14.5, lineHeight: 14 },
    data: names.map(function (n, k) { return { name: n, textStyle: { color: colors[k] } }; })
  };
}

var note = '>25% maximum\nkernel density';
function noteText(x, y) {
  return { type: 'text', x: x, y: y, silent: true,
    style: { text: note, fontSize: 15, fontFamily: FONT, fill: '#222', verticalAlign: 'middle', lineHeight: 20 } };
}
function tag(text, x, y, font) {
  return { type: 'text', x: x, y: y, silent: true,
    style: { text: text, font: font, fill: '#111', verticalAlign: 'middle' } };
}
var fFont = 'italic bold 35px "Liberation Sans"';
var lFont = 'bold 25px "DejaVu Sans"';

var myChart = echarts.init(document.getElementById('main'));
var option = {
  animation: false,
  backgroundColor: '#fff',
  grid: grids,
  xAxis: xAxes,
  yAxis: yAxes,
  legend: [rowLegend(namesF1, 49, 2.4), rowLegend(namesF2, 330, 2.1), rowLegend(namesF3, 604, 2.5)],
  graphic: [
    tag('F1', 23, 21, fFont), tag('a)', 110, 20, lFont),
    tag('F2', 25, 297, fFont), tag('b)', 115, 296, lFont),
    tag('F3', 23, 584, fFont), tag('c)', 115, 580, lFont),
    noteText(182, 94), noteText(577, 95), noteText(952, 154)
  ],
  series: series
};
myChart.setOption(option);
</script>
</body>
</html>
